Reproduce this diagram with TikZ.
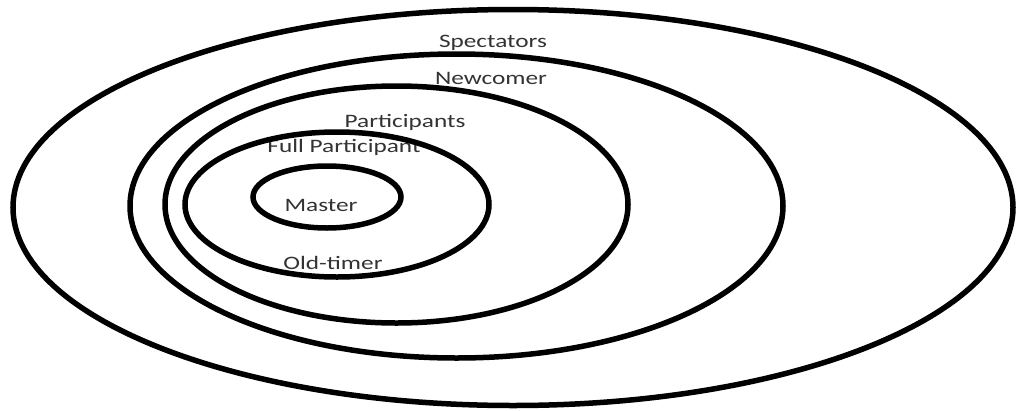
\documentclass[tikz,border=0pt]{standalone}
\usepackage{fontspec}
\setmainfont{Carlito}
\begin{document}
\begin{tikzpicture}[x=1pt,y=-1pt,
  ring/.style={line width=5.5pt,black},
  lbl/.style={inner sep=0pt,font=\fontsize{19}{22}\selectfont,text=black!80}]
\useasboundingbox (0,0) rectangle (1018,410);
\fill[white] (0,0) rectangle (1018,410);
% labels
\node[lbl] (spect) at (493,43) {\scalebox{1.33}[1]{Spectators}};
\node[lbl] (newc) at (491,78) {\scalebox{1.33}[1]{Newcomer}};
\node[lbl] (part) at (405,122) {\scalebox{1.33}[1]{Participants}};
\node[lbl] (fullp) at (344,147) {\scalebox{1.33}[1]{Full Participant}};
\node[lbl] (master) at (321,205) {\scalebox{1.33}[1]{Master}};
\node[lbl] (oldt) at (333,263) {\scalebox{1.33}[1]{Old-timer}};
% rings
\draw[ring] (513,207.5) ellipse [x radius=500, y radius=198];
\draw[ring] (456.5,206) ellipse [x radius=326.5, y radius=152];
\draw[ring] (396.5,204.5) ellipse [x radius=231.5, y radius=118.5];
\draw[ring] (337,204.5) ellipse [x radius=152, y radius=72.5];
\draw[ring] (327,197) ellipse [x radius=74, y radius=31];
\end{tikzpicture}
\end{document}
